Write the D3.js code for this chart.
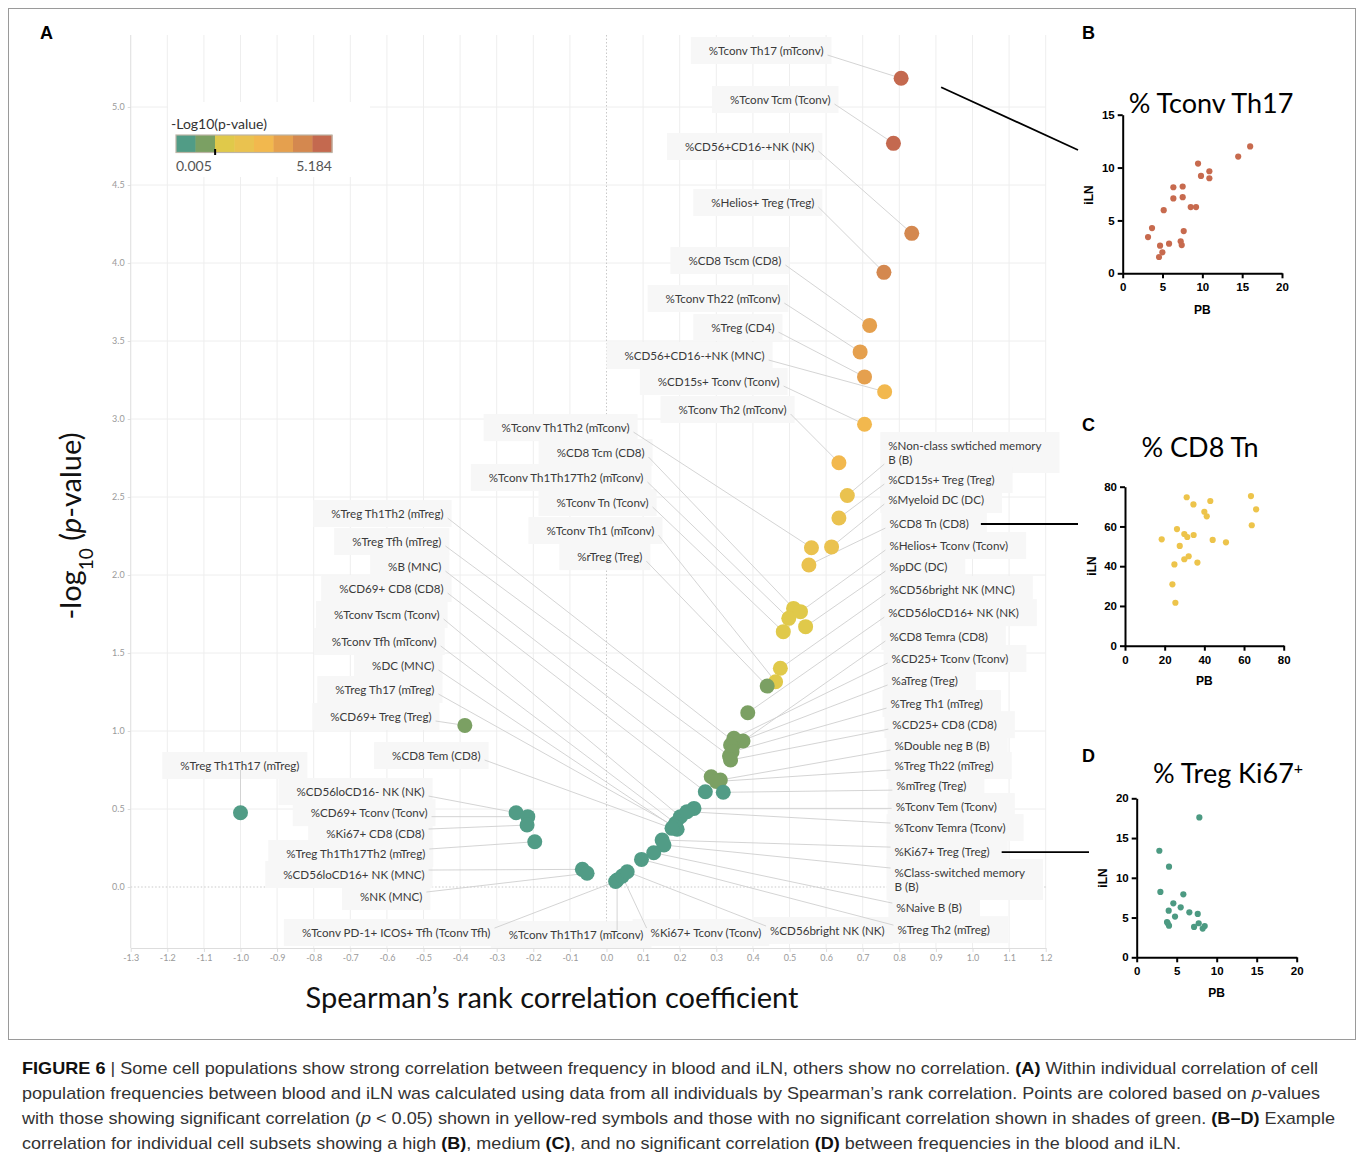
<!DOCTYPE html>
<html>
<head>
<meta charset="utf-8">
<script src="https://cdn.jsdelivr.net/npm/d3@7"></script>
<style>
  body { margin: 0; background: #fff; }
  svg { display: block; }
</style>
</head>
<body>
<svg id="fig" width="1357" height="1164"></svg>
<script>
// ---- panel A data: cell population, Spearman rho, -log10(p) ----
const populations = [
  "%Tconv Th17 (mTconv)", "%Tconv Tcm (Tconv)", "%CD56+CD16-+NK (NK)", "%Helios+ Treg (Treg)",
  "%CD8 Tscm (CD8)", "%Tconv Th22 (mTconv)", "%Treg (CD4)", "%CD56+CD16-+NK (MNC)",
  "%CD15s+ Tconv (Tconv)", "%Tconv Th2 (mTconv)",
  "%Tconv Th1Th2 (mTconv)", "%CD8 Tcm (CD8)", "%Tconv Th1Th17Th2 (mTconv)", "%Tconv Tn (Tconv)",
  "%Tconv Th1 (mTconv)", "%rTreg (Treg)",
  "%Treg Th1Th2 (mTreg)", "%Treg Tfh (mTreg)", "%B (MNC)", "%CD69+ CD8 (CD8)", "%Tconv Tscm (Tconv)",
  "%Tconv Tfh (mTconv)", "%DC (MNC)", "%Treg Th17 (mTreg)", "%CD69+ Treg (Treg)",
  "%CD8 Tem (CD8)", "%Treg Th1Th17 (mTreg)", "%CD56loCD16- NK (NK)", "%CD69+ Tconv (Tconv)",
  "%Ki67+ CD8 (CD8)", "%Treg Th1Th17Th2 (mTreg)", "%CD56loCD16+ NK (MNC)", "%NK (MNC)",
  "%Tconv PD-1+ ICOS+ Tfh (Tconv Tfh)", "%Tconv Th1Th17 (mTconv)", "%Ki67+ Tconv (Tconv)", "%CD56bright NK (NK)",
  "%Non-class swtiched memory\nB (B)", "%CD15s+ Treg (Treg)", "%Myeloid DC (DC)", "%CD8 Tn (CD8)",
  "%Helios+ Tconv (Tconv)", "%pDC (DC)", "%CD56bright NK (MNC)", "%CD56loCD16+ NK (NK)",
  "%CD8 Temra (CD8)", "%CD25+ Tconv (Tconv)", "%aTreg (Treg)", "%Treg Th1 (mTreg)", "%CD25+ CD8 (CD8)",
  "%Double neg B (B)", "%Treg Th22 (mTreg)", "%mTreg (Treg)", "%Tconv Tem (Tconv)", "%Tconv Temra (Tconv)",
  "%Ki67+ Treg (Treg)", "%Class-switched memory\nB (B)", "%Naive B (B)", "%Treg Th2 (mTreg)"
];
const rho = [
  0.805, 0.784, 0.834, 0.758, 0.719, 0.693, 0.705, 0.760, 0.705, 0.635,
  0.560, 0.511, 0.498, 0.483, 0.462, 0.439,
  0.352, 0.336, 0.286, 0.270, 0.202, 0.189, 0.193, 0.185, -0.387,
  0.179, -1.0, -0.247, -0.215, -0.217, -0.196, -0.066, -0.053,
  0.025, 0.029, 0.043, 0.0565,
  0.658, 0.635, 0.615, 0.553, 0.530, 0.544, 0.475, 0.386, 0.373, 0.348, 0.339, 0.343, 0.339,
  0.311, 0.300, 0.319, 0.239, 0.220, 0.152, 0.157, 0.129, 0.0956
];
const negLogP = [
  5.184, 4.767, 4.19, 3.94, 3.60, 3.43, 3.27, 3.175, 2.966, 2.72,
  2.175, 1.786, 1.722, 1.637, 1.316, 1.288,
  0.925, 0.840, 0.707, 0.611, 0.451, 0.408, 0.370, 0.390, 1.036,
  0.376, 0.476, 0.476, 0.451, 0.397, 0.290, 0.113, 0.088,
  0.035, 0.045, 0.070, 0.098,
  2.51, 2.365, 2.18, 2.064, 1.765, 1.669, 1.402, 1.117, 0.936, 0.953, 0.910, 0.867, 0.814,
  0.686, 0.676, 0.607, 0.504, 0.483, 0.301, 0.269, 0.220, 0.177
];
// annotation anchors (data units) — first 37 are right-aligned, the rest left-aligned
const labelRho = [
  0.593, 0.612, 0.568, 0.568, 0.478, 0.475, 0.459, 0.432, 0.473, 0.492,
  0.063, 0.104, 0.101, 0.115, 0.131, 0.098,
  -0.445, -0.451, -0.451, -0.445, -0.456, -0.464, -0.470, -0.470, -0.478,
  -0.344, -0.839, -0.497, -0.489, -0.497, -0.495, -0.497, -0.503,
  -0.317, 0.101, 0.423, 0.760,
  0.770, 0.770, 0.770, 0.773, 0.773, 0.773, 0.773, 0.770, 0.773, 0.779, 0.779, 0.776, 0.781,
  0.787, 0.787, 0.792, 0.790, 0.787, 0.787, 0.787, 0.792, 0.795
];
const labelLogP = [
  5.359, 5.045, 4.744, 4.385, 4.013, 3.769, 3.583, 3.404, 3.237, 3.058,
  2.942, 2.782, 2.622, 2.462, 2.282, 2.115,
  2.391, 2.212, 2.051, 1.910, 1.744, 1.571, 1.417, 1.263, 1.090,
  0.840, 0.776, 0.609, 0.474, 0.340, 0.212, 0.077, -0.064,
  -0.295, -0.308, -0.295, -0.282,
  2.827, 2.609, 2.481, 2.327, 2.186, 2.051, 1.904, 1.756, 1.603, 1.462, 1.321, 1.173, 1.038,
  0.904, 0.776, 0.647, 0.513, 0.378, 0.224, 0.090, -0.135, -0.276
];
const xTickValues = d3.range(-13, 13).map(d => d / 10);
const yTickValues = d3.range(0, 11).map(d => d / 2);
const legendColors = ['#519c86', '#7ba063', '#e0c94a', '#eac24f', '#f2b84e', '#e5a04e', '#d4884f', '#c4694f'];
const legendRange = [0.005, 5.184];

// ---- panels B-D: PB vs iLN frequencies ----
const th17PB  = [16.0, 14.5, 9.46, 10.88, 9.83, 10.88, 6.36, 7.53, 6.36, 7.53, 5.15, 8.54, 9.21, 3.68, 7.66, 3.18, 4.69, 5.82, 7.28, 7.41, 4.98, 4.56];
const th17ILN = [12.0, 11.04, 10.38, 9.65, 9.21, 8.99, 8.14, 8.21, 7.08, 7.20, 5.97, 6.26, 6.26, 4.28, 3.99, 3.43, 2.61, 2.80, 3.02, 2.67, 1.98, 1.54];
const cd8TnPB  = [18.5, 26.2, 31.1, 34.5, 29.9, 31.4, 34.6, 27.6, 29.9, 32.1, 36.5, 24.9, 40.0, 41.2, 43.0, 44.2, 50.9, 63.5, 66.1, 63.9, 23.9, 25.4];
const cd8TnILN = [53.5, 58.7, 74.7, 71.1, 56.2, 54.7, 55.7, 50.2, 43.5, 45.0, 41.8, 40.9, 67.4, 65.1, 72.8, 53.2, 52.0, 75.3, 68.6, 60.6, 30.9, 21.6];
const ki67PB  = [7.83, 2.83, 4.04, 2.96, 5.83, 4.58, 5.5, 4.0, 6.58, 7.63, 4.79, 3.79, 4.04, 7.75, 7.17, 8.5, 8.25, 3.88];
const ki67ILN = [17.6, 13.4, 11.4, 8.22, 7.92, 6.79, 6.29, 5.87, 5.66, 5.45, 5.12, 4.44, 3.98, 4.28, 3.82, 3.94, 3.61, 4.28];

const svg = d3.select('#fig');
svg.append('rect').attr('width', 1357).attr('height', 1164).attr('fill', '#fff');
svg.append('rect')
  .attr('x', 8.5).attr('y', 8.5).attr('width', 1347).attr('height', 1031)
  .attr('fill', 'none').attr('stroke', '#9a9a9a');

// ---------- panel A ----------
const x = d3.scaleLinear().domain([-1.3, 1.2]).range([130.7, 1045.7]);
const y = d3.scaleLinear().domain([0, 5]).range([887, 107]);
const color = d3.scaleQuantize().domain([0, legendRange[1]]).range(legendColors);
const plotTop = 35, plotBottom = 948;

const gA = svg.append('g');

gA.selectAll('.vgrid').data(xTickValues).enter().append('line')
  .attr('class', 'vgrid')
  .attr('x1', d => x(d)).attr('x2', d => x(d))
  .attr('y1', plotTop).attr('y2', plotBottom)
  .attr('stroke', d => d === 0 ? 'none' : '#eeeeee');
gA.selectAll('.hgrid').data(yTickValues).enter().append('line')
  .attr('class', 'hgrid')
  .attr('x1', x(-1.3)).attr('x2', x(1.2))
  .attr('y1', d => y(d)).attr('y2', d => y(d))
  .attr('stroke', d => d === 0 ? 'none' : '#eeeeee');

// zero reference lines (dotted)
gA.append('line').attr('x1', x(0)).attr('x2', x(0)).attr('y1', plotTop).attr('y2', plotBottom)
  .attr('stroke', '#c9c9c9').attr('stroke-dasharray', '1.5,2');
gA.append('line').attr('x1', x(-1.3)).attr('x2', x(1.2)).attr('y1', y(0)).attr('y2', y(0))
  .attr('stroke', '#c9c9c9').attr('stroke-dasharray', '1.5,2');

const xAxis = d3.axisBottom(x).tickValues(xTickValues).tickFormat(d => d.toFixed(1)).tickSize(4).tickSizeOuter(0);
gA.append('g').attr('transform', `translate(0,${plotBottom})`).call(xAxis)
  .call(a => {
    a.select('.domain').attr('stroke', '#dddddd');
    a.selectAll('.tick line').attr('stroke', '#dddddd');
    a.selectAll('text').attr('fill', '#9a9a9a').style('font', '9px Lato');
  });
const yAxis = d3.axisLeft(y).tickValues(yTickValues).tickFormat(d => d.toFixed(1)).tickSize(3).tickSizeOuter(0);
gA.append('g').attr('transform', `translate(${x(-1.3)},0)`).call(yAxis)
  .call(a => {
    a.select('.domain').attr('stroke', '#e2e2e2').attr('d', `M0,${plotTop}V${plotBottom}`);
    a.selectAll('.tick line').attr('stroke', '#dddddd');
    a.selectAll('text').attr('fill', '#9a9a9a').style('font', '9px Lato');
  });

// legend
const leg = gA.append('g');
leg.append('rect').attr('x', 168).attr('y', 102).attr('width', 202).attr('height', 75).attr('fill', '#fff');
leg.append('text').attr('x', 171).attr('y', 129).text('-Log10(p-value)')
  .style('font', '14px Lato').attr('fill', '#333');
const lx = d3.scaleBand().domain(d3.range(legendColors.length)).range([176, 332]);
leg.selectAll('.sw').data(legendColors).enter().append('rect')
  .attr('x', (d, i) => lx(i)).attr('y', 135).attr('width', lx.bandwidth() + 0.4).attr('height', 17.5)
  .attr('fill', d => d);
leg.append('rect').attr('x', 176).attr('y', 135).attr('width', 156).attr('height', 17.5)
  .attr('fill', 'none').attr('stroke', '#bdb5a6').attr('stroke-width', 1.2);
const legScale = d3.scaleLinear().domain([0, legendRange[1]]).range([176, 332]);
leg.append('rect').attr('x', legScale(1.3) - 1).attr('y', 149).attr('width', 2).attr('height', 6).attr('fill', '#000');
leg.append('text').attr('x', 176).attr('y', 171).text(legendRange[0].toFixed(3))
  .style('font', '14px Lato').attr('fill', '#555');
leg.append('text').attr('x', 332).attr('y', 171).attr('text-anchor', 'end').text(legendRange[1].toFixed(3))
  .style('font', '14px Lato').attr('fill', '#555');

// annotations
const rows = populations.map((name, i) => ({
  name, rho: rho[i], p: negLogP[i],
  lx: labelRho[i], ly: labelLogP[i], side: i < 37 ? 'end' : 'start'
}));

const boxLayer = gA.append('g');
const lineLayer = gA.append('g');
const textLayer = gA.append('g');
const pointLayer = gA.append('g');

const texts = textLayer.selectAll('text').data(rows).enter().append('text')
  .attr('x', d => x(d.lx)).attr('y', d => y(d.ly))
  .attr('text-anchor', d => d.side)
  .style('font', '11.6px Lato').attr('fill', '#3a3a3a');
texts.each(function(d) {
  const t = d3.select(this);
  d.name.split('\n').forEach((part, k) => {
    t.append('tspan').attr('x', x(d.lx)).attr('dy', k === 0 ? '0.35em' : '14px').text(part);
  });
  d.bb = this.getBBox();
});

boxLayer.selectAll('rect').data(rows).enter().append('rect')
  .attr('x', d => d.bb.x - (d.side === 'end' ? 18 : 8))
  .attr('y', d => d.bb.y - 7)
  .attr('width', d => d.bb.width + 26)
  .attr('height', d => d.bb.height + 14)
  .attr('fill', '#f7f7f7');

const clamp = (v, a, b) => Math.max(a, Math.min(b, v));
lineLayer.selectAll('line').data(rows).enter().append('line')
  .attr('x1', d => clamp(x(d.rho), d.bb.x - 4, d.bb.x + d.bb.width + 4))
  .attr('y1', d => clamp(y(d.p), d.bb.y + 2, d.bb.y + d.bb.height - 2))
  .attr('x2', d => x(d.rho)).attr('y2', d => y(d.p))
  .attr('stroke', '#cfcfcf').attr('stroke-width', 0.9);

pointLayer.selectAll('circle').data(rows).enter().append('circle')
  .attr('cx', d => x(d.rho)).attr('cy', d => y(d.p)).attr('r', 7.5)
  .attr('fill', d => color(d.p));

// axis titles
const yTitle = svg.append('text').attr('transform', 'translate(81,526) rotate(-90)')
  .attr('text-anchor', 'middle').style('font', '29px Lato').attr('fill', '#111');
yTitle.append('tspan').text('-log');
yTitle.append('tspan').text('10').attr('baseline-shift', 'sub').style('font-size', '19px');
yTitle.append('tspan').text(' (');
yTitle.append('tspan').text('p').style('font-style', 'italic');
yTitle.append('tspan').text('-value)');
svg.append('text').attr('x', 552).attr('y', 1008).attr('text-anchor', 'middle')
  .style('font', '29px Lato').attr('fill', '#111')
  .text('Spearman\u2019s rank correlation coefficient');

// panel letters
const letters = [['A', 40, 39], ['B', 1082, 39], ['C', 1082, 431], ['D', 1082, 762]];
svg.selectAll('.letter').data(letters).enter().append('text')
  .attr('x', d => d[1]).attr('y', d => d[2]).text(d => d[0])
  .style('font', 'bold 18px "Liberation Sans", Arial, sans-serif').attr('fill', '#000');

// ---------- panels B-D ----------
const panels = [
  { title: '% Tconv Th17', sup: '', pb: th17PB, iln: th17ILN, fill: '#c76a4e',
    xs: d3.scaleLinear().domain([0, 20]).range([1122.7, 1282]), ys: d3.scaleLinear().domain([0, 15]).range([273.3, 114.7]),
    xt: [0, 5, 10, 15, 20], yt: [0, 5, 10, 15], tx: 1211, ty: 113, ilnX: 1093, ilnY: 195, pbY: 314 },
  { title: '% CD8 Tn', sup: '', pb: cd8TnPB, iln: cd8TnILN, fill: '#edc44b',
    xs: d3.scaleLinear().domain([0, 80]).range([1125, 1283.7]), ys: d3.scaleLinear().domain([0, 80]).range([645.7, 486.7]),
    xt: [0, 20, 40, 60, 80], yt: [0, 20, 40, 60, 80], tx: 1200, ty: 457, ilnX: 1096, ilnY: 566, pbY: 685 },
  { title: '% Treg Ki67', sup: '+', pb: ki67PB, iln: ki67ILN, fill: '#4c9a82',
    xs: d3.scaleLinear().domain([0, 20]).range([1136.7, 1296.7]), ys: d3.scaleLinear().domain([0, 20]).range([957.3, 798.3]),
    xt: [0, 5, 10, 15, 20], yt: [0, 5, 10, 15, 20], tx: 1228, ty: 783, ilnX: 1107, ilnY: 878, pbY: 997 }
];

panels.forEach(pn => {
  const gp = svg.append('g');
  const tt = gp.append('text').attr('x', pn.tx).attr('y', pn.ty).attr('text-anchor', 'middle')
    .style('font', '27px Lato').attr('fill', '#000').text(pn.title);
  if (pn.sup) tt.append('tspan').attr('baseline-shift', 'super').style('font-size', '16px').text(pn.sup);

  gp.append('g').attr('transform', `translate(0,${pn.ys(0)})`)
    .call(d3.axisBottom(pn.xs).tickValues(pn.xt).tickSize(5).tickPadding(5).tickSizeOuter(0))
    .call(a => {
      a.select('.domain').attr('stroke', '#000').attr('stroke-width', 2);
      a.selectAll('.tick line').attr('stroke', '#000').attr('stroke-width', 2);
      a.selectAll('text').attr('fill', '#000').style('font', 'bold 11.5px "Liberation Sans", Arial, sans-serif');
    });
  gp.append('g').attr('transform', `translate(${pn.xs(0)},0)`)
    .call(d3.axisLeft(pn.ys).tickValues(pn.yt).tickSize(5).tickPadding(3).tickSizeOuter(0))
    .call(a => {
      a.select('.domain').attr('stroke', '#000').attr('stroke-width', 2);
      a.selectAll('.tick line').attr('stroke', '#000').attr('stroke-width', 2);
      a.selectAll('text').attr('fill', '#000').style('font', 'bold 11.5px "Liberation Sans", Arial, sans-serif');
    });

  gp.append('text').attr('transform', `translate(${pn.ilnX},${pn.ilnY}) rotate(-90)`)
    .attr('text-anchor', 'middle').style('font', 'bold 12px "Liberation Sans", Arial, sans-serif').text('iLN');
  gp.append('text').attr('x', (pn.xs.range()[0] + pn.xs.range()[1]) / 2).attr('y', pn.pbY)
    .attr('text-anchor', 'middle').style('font', 'bold 12px "Liberation Sans", Arial, sans-serif').text('PB');

  gp.selectAll('circle').data(pn.pb.map((v, i) => [v, pn.iln[i]])).enter().append('circle')
    .attr('cx', d => pn.xs(d[0])).attr('cy', d => pn.ys(d[1])).attr('r', 3.1)
    .attr('fill', pn.fill);
});

// connectors from panel A annotations to panels
const cB = rows[0], cC = rows[40], cD = rows[55];
svg.append('line').attr('x1', x(cB.rho) + 40).attr('y1', y(cB.p) + 9).attr('x2', 1078).attr('y2', 150)
  .attr('stroke', '#000').attr('stroke-width', 1.8);
svg.append('line').attr('x1', cC.bb.x + cC.bb.width + 12).attr('y1', y(cC.ly)).attr('x2', 1078).attr('y2', y(cC.ly))
  .attr('stroke', '#000').attr('stroke-width', 1.8);
svg.append('line').attr('x1', cD.bb.x + cD.bb.width + 12).attr('y1', y(cD.ly)).attr('x2', 1089).attr('y2', y(cD.ly))
  .attr('stroke', '#000').attr('stroke-width', 1.8);

// ---------- caption ----------
const captionLines = [
  { len: 1296, parts: [['FIGURE 6', 'b'], [' | Some cell populations show strong correlation between frequency in blood and iLN, others show no correlation. ', ''], ['(A)', 'b'], [' Within individual correlation of cell', '']] },
  { len: 1298, parts: [['population frequencies between blood and iLN was calculated using data from all individuals by Spearman\u2019s rank correlation. Points are colored based on ', ''], ['p', 'i'], ['-values', '']] },
  { len: 1313, parts: [['with those showing significant correlation (', ''], ['p', 'i'], [' < 0.05) shown in yellow-red symbols and those with no significant correlation shown in shades of green. ', ''], ['(B\u2013D)', 'b'], [' Example', '']] },
  { len: 1159, parts: [['correlation for individual cell subsets showing a high ', ''], ['(B)', 'b'], [', medium ', ''], ['(C)', 'b'], [', and no significant correlation ', ''], ['(D)', 'b'], [' between frequencies in the blood and iLN.', '']] }
];
const cap = svg.append('g');
captionLines.forEach((ln, i) => {
  const t = cap.append('text').attr('x', 22).attr('y', 1074 + i * 25)
    .attr('textLength', ln.len).attr('lengthAdjust', 'spacingAndGlyphs')
    .style('font', '17px "Liberation Sans", Arial, sans-serif').attr('fill', '#333');
  ln.parts.forEach(p => {
    const s = t.append('tspan').text(p[0]);
    if (p[1] === 'b') s.style('font-weight', 'bold').attr('fill', '#111');
    if (p[1] === 'i') s.style('font-style', 'italic');
  });
});
</script>
</body>
</html>
